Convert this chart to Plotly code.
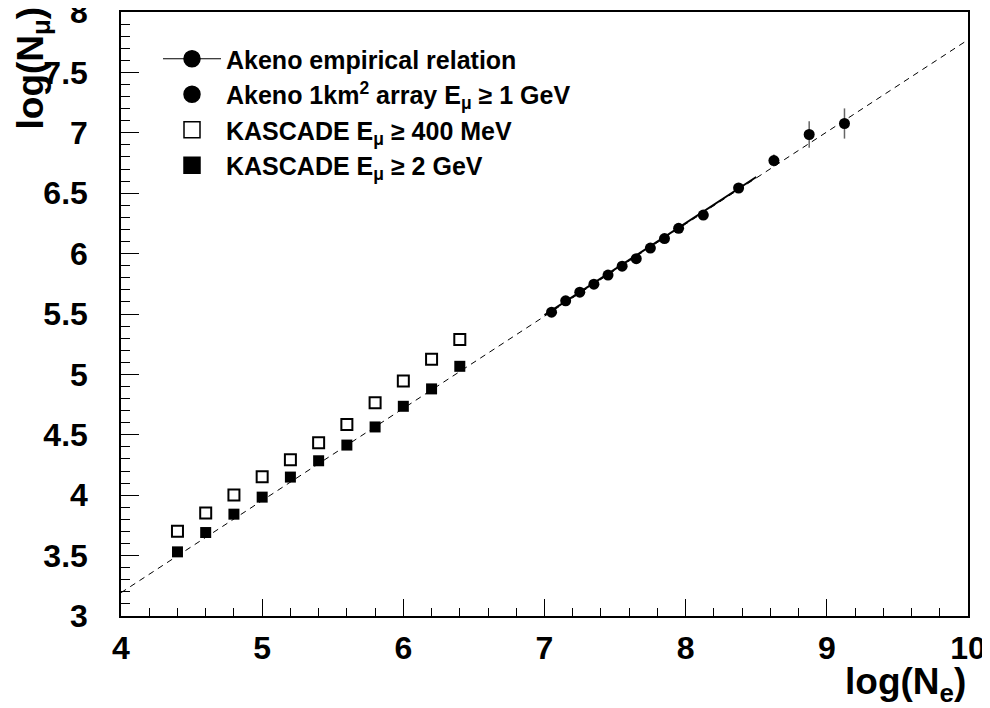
import plotly.graph_objects as go

# ---------------- data ----------------
akeno_x = [7.05, 7.15, 7.25, 7.35, 7.45, 7.55, 7.65, 7.75, 7.85, 7.95,
           8.125, 8.375, 8.625, 8.875, 9.125]
akeno_y = [5.515, 5.609, 5.681, 5.747, 5.822, 5.896, 5.958, 6.046, 6.124, 6.209,
           6.319, 6.543, 6.770, 6.986, 7.077]
akeno_err = [0.02, 0.02, 0.02, 0.02, 0.02, 0.02, 0.02, 0.02, 0.02, 0.02,
             0.02, 0.03, 0.05, 0.11, 0.125]

kascade_x = [4.4, 4.6, 4.8, 5.0, 5.2, 5.4, 5.6, 5.8, 6.0, 6.2, 6.4]
kascade_400mev = [3.702, 3.852, 4.001, 4.153, 4.294, 4.434, 4.586, 4.766, 4.946, 5.125, 5.289]
kascade_2gev = [3.531, 3.691, 3.843, 3.984, 4.150, 4.285, 4.415, 4.565, 4.736, 4.880, 5.067]

empirical_x = [7.0, 8.5]
empirical_y = [5.49, 6.634]
extension_x = [4.0, 10.0]
extension_y = [3.193, 7.77]

x_ticks = [4, 5, 6, 7, 8, 9, 10]
y_ticks = [3, 3.5, 4, 4.5, 5, 5.5, 6, 6.5, 7, 7.5, 8]

FONT = "Liberation Sans"
# the page body has an 8px margin, so the figure starts at (8, 8) on screen
OFF = 8
W, H = 990 - OFF, 708 - OFF
X0, X1, Y0, Y1 = 121, 968, 12, 616          # plot area in screen pixels
L, T = X0 - OFF, Y0 - OFF
R, B = W - (X1 - OFF), H - (Y1 - OFF)


def px(xs):
    return (xs - X0) / (X1 - X0)


def py(ys):
    return (Y1 - ys) / (Y1 - Y0)


fig = go.Figure()

fig.add_trace(go.Scatter(x=extension_x, y=extension_y, mode="lines",
                         line=dict(color="black", width=1, dash="6px,5px"),
                         showlegend=False, hoverinfo="skip"))
fig.add_trace(go.Scatter(x=empirical_x, y=empirical_y, mode="lines",
                         line=dict(color="black", width=2),
                         showlegend=False))
fig.add_trace(go.Scatter(x=akeno_x, y=akeno_y, mode="markers", showlegend=False,
                         marker=dict(symbol="circle", size=11, color="black"),
                         error_y=dict(type="data", array=akeno_err, visible=True,
                                      color="#666666", thickness=1.5, width=0)))
fig.add_trace(go.Scatter(x=kascade_x, y=kascade_400mev, mode="markers", showlegend=False,
                         marker=dict(symbol="square-open", size=11, color="black",
                                     line=dict(width=2, color="black"))))
fig.add_trace(go.Scatter(x=kascade_x, y=kascade_2gev, mode="markers", showlegend=False,
                         marker=dict(symbol="square", size=11, color="black")))

# legend entries (larger symbols, as in the reference legend)
legend_entries = [
    ("Akeno empirical relation", "lines+markers", "circle"),
    ("Akeno 1km<sup>2</sup> array E<sub>μ</sub> ≥ 1 GeV", "markers", "circle"),
    ("KASCADE E<sub>μ</sub> ≥ 400 MeV", "markers", "square-open"),
    ("KASCADE E<sub>μ</sub> ≥ 2 GeV", "markers", "square"),
]
for name, mode, sym in legend_entries:
    fig.add_trace(go.Scatter(x=[None], y=[None], mode=mode, name=name,
                             line=dict(color="black", width=1.2),
                             marker=dict(symbol=sym, size=16, color="black",
                                         line=dict(width=1.5, color="black"))))

axis_common = dict(showgrid=False, zeroline=False, showline=True, mirror=True,
                   linecolor="black", linewidth=1.5, ticks="inside",
                   tickcolor="black", tickwidth=1, automargin=False,
                   ticklabeloverflow="allow",
                   tickfont=dict(family=FONT, size=32, color="black", weight="bold"))

fig.update_xaxes(range=[4, 10], tickvals=x_ticks, ticklen=17,
                 minor=dict(dtick=0.2, ticks="inside", ticklen=8, tickcolor="black",
                            tickwidth=1),
                 ticklabelstandoff=3, **axis_common)
fig.update_yaxes(range=[3, 8], tickvals=y_ticks, ticklen=18,
                 minor=dict(dtick=0.1, ticks="inside", ticklen=9, tickcolor="black",
                            tickwidth=1),
                 ticklabelstandoff=25, **axis_common)

fig.add_annotation(text="log(N<sub>e</sub>)", xref="paper", yref="paper",
                   x=px(968), y=py(659), xanchor="right", yanchor="top", showarrow=False,
                   font=dict(family=FONT, size=37, color="black", weight="bold"))
fig.add_annotation(text="log(N<sub>μ</sub>)", xref="paper", yref="paper",
                   x=px(7), y=py(5), xanchor="left", yanchor="top", showarrow=False,
                   textangle=-90,
                   font=dict(family=FONT, size=37, color="black", weight="bold"))

fig.update_layout(
    width=W, height=H,
    margin=dict(l=L, r=R, t=T, b=B, autoexpand=False),
    paper_bgcolor="white", plot_bgcolor="white",
    font=dict(family=FONT, color="black"),
    legend=dict(x=px(158), y=py(36), xanchor="left", yanchor="top",
                bgcolor="rgba(0,0,0,0)", itemwidth=58,
                font=dict(family=FONT, size=25, color="black", weight="bold"),
                tracegroupgap=0),
)

fig.write_html("out.html")
